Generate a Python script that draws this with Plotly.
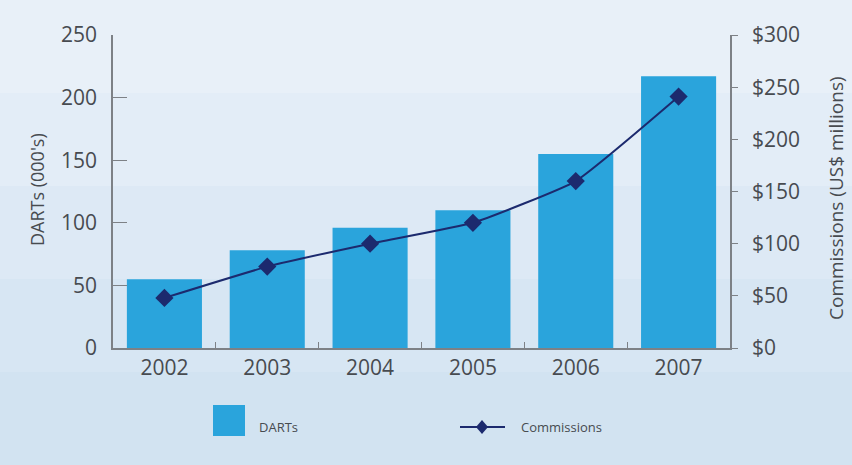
import plotly.graph_objects as go

years = ["2002", "2003", "2004", "2005", "2006", "2007"]
darts = [55, 78, 96, 110, 155, 217]
commissions = [48, 78, 100, 120, 160, 241]
left_ticks = [0, 50, 100, 150, 200, 250]
right_ticks = [0, 50, 100, 150, 200, 250, 300]
right_tick_labels = ["$0", "$50", "$100", "$150", "$200", "$250", "$300"]

W, H = 852, 465
L, R, T, B = 113, 730, 35, 348

def px(x):
    return (x - L) / (R - L)

def py(y):
    return (B - y) / (B - T)

FONT = "Open Sans"
TXT = "#474b50"
AX = "#7d8186"
BAR = "#2aa4dc"
NAVY = "#1c2a6e"

fig = go.Figure()
fig.add_trace(go.Bar(x=years, y=darts, name="DARTs", marker_color=BAR,
                     marker_line_width=0, yaxis="y"))
fig.add_trace(go.Scatter(x=years, y=commissions, name="Commissions", yaxis="y2",
                         mode="lines+markers", line=dict(color=NAVY, width=2, shape="spline", smoothing=0.4),
                         marker=dict(symbol="diamond", size=14, color=NAVY)))

shapes = []
# background gradient
bands = [
    ("#e8f0f8", 0.0, 0.2), ("#e3edf7", 0.2, 0.4), ("#dde9f5", 0.4, 0.6),
    ("#d7e6f3", 0.6, 0.8), ("#d2e3f1", 0.8, 1.0),
]
for c, y0, y1 in bands:
    shapes.append(dict(type="rect", xref="paper", yref="paper", layer="below",
                       x0=px(0), x1=px(W), y0=py(H * y1), y1=py(H * y0),
                       fillcolor=c, line_width=0))
# legend
shapes.append(dict(type="rect", xref="paper", yref="paper",
                   x0=px(213), x1=px(245), y0=py(436), y1=py(405),
                   fillcolor=BAR, line_width=0))
shapes.append(dict(type="line", xref="paper", yref="paper",
                   x0=px(460), x1=px(505), y0=py(427), y1=py(427),
                   line=dict(color=NAVY, width=2)))
cx, cy = 482, 427
shapes.append(dict(type="path", xref="paper", yref="paper",
                   path=f"M {px(cx-6)} {py(cy)} L {px(cx)} {py(cy-7)} L {px(cx+6)} {py(cy)} L {px(cx)} {py(cy+7)} Z",
                   fillcolor=NAVY, line_width=0))

annotations = [
    dict(text="DARTs (000's)", xref="paper", yref="paper", x=px(37), y=py(190),
         textangle=-90, showarrow=False, font=dict(family=FONT, size=18, color=TXT),
         xanchor="center", yanchor="middle"),
    dict(text="Commissions (US$ millions)", xref="paper", yref="paper", x=px(836), y=py(198),
         textangle=-90, showarrow=False, font=dict(family=FONT, size=19, color=TXT),
         xanchor="center", yanchor="middle"),
    dict(text="DARTs", xref="paper", yref="paper", x=px(257), y=py(427),
         showarrow=False, font=dict(family=FONT, size=13, color=TXT),
         xanchor="left", yanchor="middle"),
    dict(text="Commissions", xref="paper", yref="paper", x=px(519), y=py(427),
         showarrow=False, font=dict(family=FONT, size=13, color=TXT),
         xanchor="left", yanchor="middle"),
]

fig.update_layout(
    width=W, height=H,
    margin=dict(l=L, r=W - R, t=T, b=H - B, pad=0),
    paper_bgcolor="#dbe8f4", plot_bgcolor="rgba(0,0,0,0)",
    showlegend=False, bargap=0.27,
    font=dict(family=FONT, color=TXT),
    shapes=shapes, annotations=annotations,
    xaxis=dict(type="category", showgrid=False, showline=True, linecolor=AX, linewidth=1.5,
               ticks="inside", tickson="boundaries", ticklen=6, tickcolor=AX,
               tickfont=dict(size=21, color=TXT), zeroline=False),
    yaxis=dict(range=[0, 250], tickvals=left_ticks, showgrid=False,
               showline=True, linecolor=AX, linewidth=1.5, ticks="inside", ticklen=14,
               tickcolor=AX, tickfont=dict(size=21, color=TXT), zeroline=False,
               ticklabelstandoff=10),
    yaxis2=dict(range=[0, 300], tickvals=right_ticks, ticktext=right_tick_labels,
                overlaying="y", side="right", showgrid=False, showline=True, linecolor=AX,
                linewidth=1.5, ticks="outside", ticklen=6, tickcolor=AX,
                tickfont=dict(size=21, color=TXT), zeroline=False, ticklabelstandoff=10),
)

fig.write_html("out.html")
